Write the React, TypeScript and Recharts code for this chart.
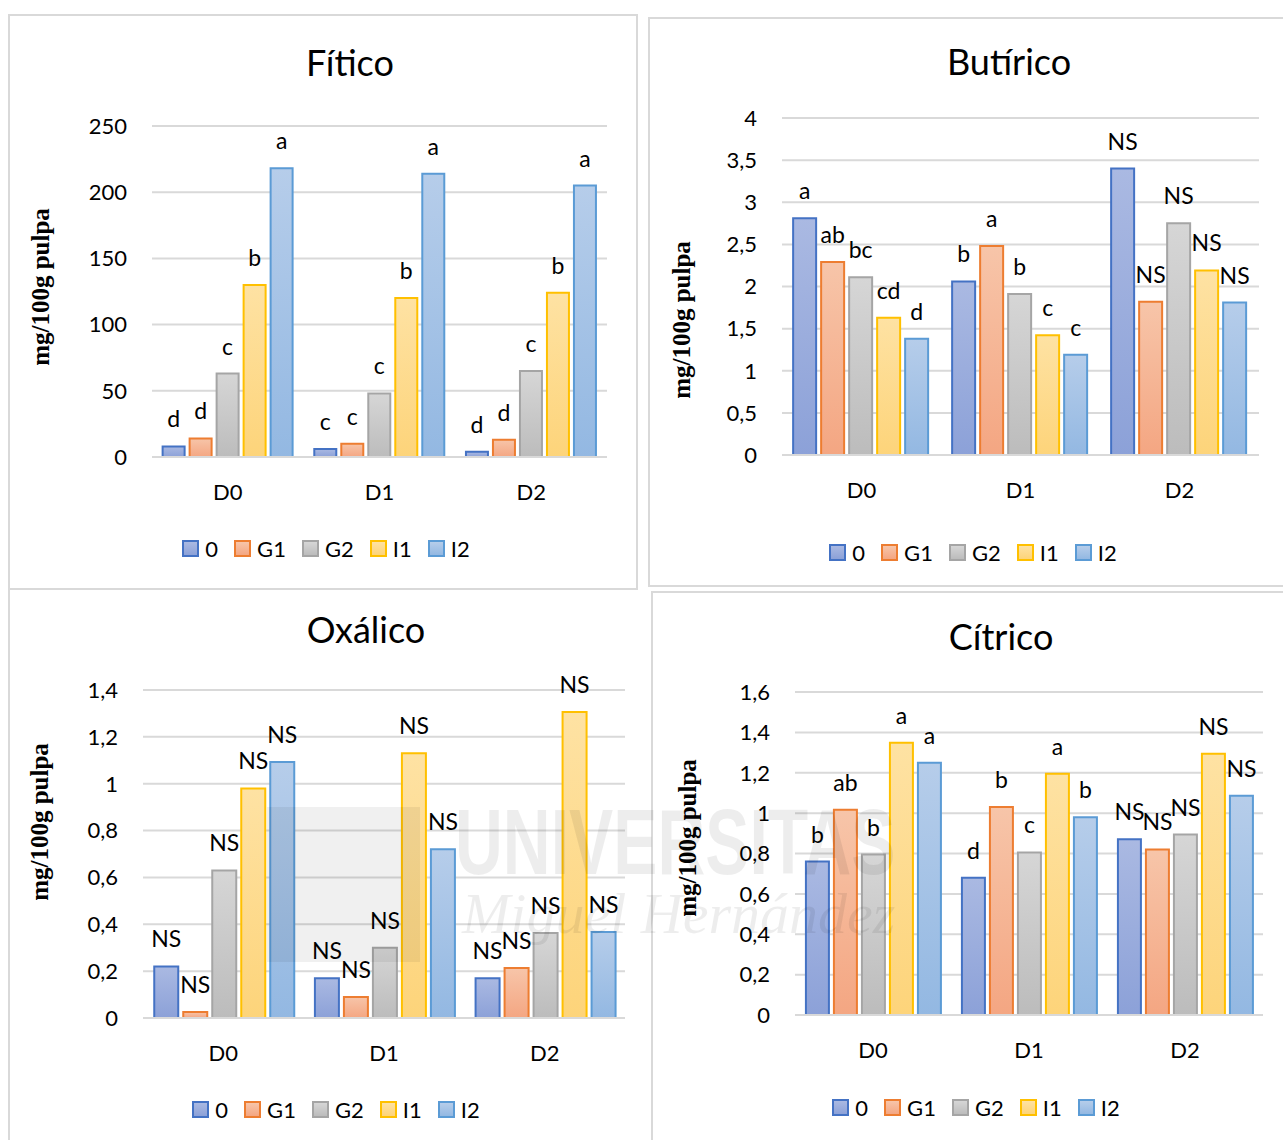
import { BarChart, Bar, XAxis, YAxis, CartesianGrid, LabelList } from "recharts";

const categories = ["D0", "D1", "D2"];
const seriesNames = ["0", "G1", "G2", "I1", "I2"];

// values indexed [series][category]
const fiticoValues = [
  [8, 6, 4],
  [14, 10, 13],
  [63, 48, 65],
  [130, 120, 124],
  [218, 214, 205],
];
const fiticoLetters = [
  ["d", "c", "d"],
  ["d", "c", "d"],
  ["c", "c", "c"],
  ["b", "b", "b"],
  ["a", "a", "a"],
];
const fiticoTicks = [0, 50, 100, 150, 200, 250];

const butiricoValues = [
  [2.81, 2.06, 3.4],
  [2.29, 2.48, 1.82],
  [2.11, 1.91, 2.75],
  [1.63, 1.42, 2.19],
  [1.38, 1.19, 1.81],
];
const butiricoLetters = [
  ["a", "b", "NS"],
  ["ab", "a", "NS"],
  ["bc", "b", "NS"],
  ["cd", "c", "NS"],
  ["d", "c", "NS"],
];
const butiricoTicks = [0, 0.5, 1, 1.5, 2, 2.5, 3, 3.5, 4];

const oxalicoValues = [
  [0.22, 0.17, 0.17],
  [0.026, 0.09, 0.213],
  [0.63, 0.3, 0.363],
  [0.98, 1.13, 1.306],
  [1.093, 0.72, 0.367],
];
const oxalicoLetters = [
  ["NS", "NS", "NS"],
  ["NS", "NS", "NS"],
  ["NS", "NS", "NS"],
  ["NS", "NS", "NS"],
  ["NS", "NS", "NS"],
];
const oxalicoTicks = [0, 0.2, 0.4, 0.6, 0.8, 1, 1.2, 1.4];

const citricoValues = [
  [0.76, 0.68, 0.87],
  [1.017, 1.03, 0.82],
  [0.795, 0.805, 0.894],
  [1.348, 1.195, 1.294],
  [1.25, 0.98, 1.086],
];
const citricoLetters = [
  ["b", "d", "NS"],
  ["ab", "b", "NS"],
  ["b", "c", "NS"],
  ["a", "a", "NS"],
  ["a", "b", "NS"],
];
const citricoTicks = [0, 0.2, 0.4, 0.6, 0.8, 1, 1.2, 1.4, 1.6];

const fills = [
  { top: "#aab9e2", bottom: "#8ca1d8", stroke: "#4472c4" },
  { top: "#f7c5a9", bottom: "#f4a682", stroke: "#ed7d31" },
  { top: "#d6d6d6", bottom: "#bcbcbc", stroke: "#a5a5a5" },
  { top: "#fee2a3", bottom: "#fdd47a", stroke: "#ffc000" },
  { top: "#b6cdea", bottom: "#93b8e2", stroke: "#5b9bd5" },
];

const FONT = "Lato, 'Open Sans', sans-serif";
const GRID = "#d9d9d9";

function buildRows(values: number[][], letters: string[][]) {
  return categories.map((c, i) => {
    const row: Record<string, string | number> = { cat: c };
    seriesNames.forEach((_, k) => {
      row[`s${k}`] = values[k][i];
      row[`l${k}`] = letters[k][i];
    });
    return row;
  });
}

const fmt = (v: number) => String(v).replace(".", ",");

interface PanelProps {
  id: string;
  title: string;
  values: number[][];
  letters: string[][];
  ticks: number[];
  box: { left: number; top: number; width: number; height: number };
  plot: { x0: number; x1: number; yTop: number; yZero: number };
  titleAt: [number, number];
  axisTitleAt: [number, number];
  legendAt: [number, number];
}

function Panel(p: PanelProps) {
  const { box, plot } = p;
  const yAxisW = 60;
  const xAxisH = 40;
  const margin = {
    left: plot.x0 - box.left - yAxisW,
    right: box.left + box.width - plot.x1,
    top: plot.yTop - box.top,
    bottom: box.top + box.height - plot.yZero - xAxisH,
  };
  const data = buildRows(p.values, p.letters);
  const max = p.ticks[p.ticks.length - 1];

  return (
    <>
      <div style={{ position: "absolute", left: box.left, top: box.top }}>
        <BarChart
          width={box.width}
          height={box.height}
          data={data}
          margin={margin}
          barCategoryGap="7%"
          barGap={5}
        >
          <defs>
            {fills.map((f, k) => (
              <linearGradient key={k} id={`${p.id}-g${k}`} x1="0" y1="0" x2="0" y2="1">
                <stop offset="0%" stopColor={f.top} />
                <stop offset="100%" stopColor={f.bottom} />
              </linearGradient>
            ))}
          </defs>
          <CartesianGrid vertical={false} stroke={GRID} strokeWidth={2} />
          <XAxis
            dataKey="cat"
            height={xAxisH}
            axisLine={{ stroke: GRID, strokeWidth: 2 }}
            tickLine={false}
            tickSize={0}
            tickMargin={27}
            tick={{ fontSize: 22, fill: "#000", fontFamily: FONT }}
          />
          <YAxis
            width={yAxisW}
            domain={[0, max]}
            ticks={p.ticks}
            interval={0}
            tickFormatter={fmt}
            axisLine={false}
            tickLine={false}
            tickSize={0}
            tickMargin={25}
            tick={{ fontSize: 22, fill: "#000", fontFamily: FONT }}
          />
          {seriesNames.map((s, k) => (
            <Bar
              key={s}
              dataKey={`s${k}`}
              name={s}
              fill={`url(#${p.id}-g${k})`}
              stroke={fills[k].stroke}
              strokeWidth={2}
              isAnimationActive={false}
            >
              <LabelList
                dataKey={`l${k}`}
                content={(lp: any) => (
                  <text
                    x={Number(lp.x) + Number(lp.width) / 2}
                    y={Number(lp.y) - 19}
                    textAnchor="middle"
                    fontSize={23}
                    fontFamily={FONT}
                    fill="#000"
                  >
                    {lp.value}
                  </text>
                )}
              />
            </Bar>
          ))}
        </BarChart>
      </div>
      <div
        style={{
          position: "absolute",
          left: p.titleAt[0] - 200,
          top: p.titleAt[1] - 23,
          width: 400,
          textAlign: "center",
          fontFamily: FONT,
          fontSize: 36,
          lineHeight: "44px",
          color: "#000",
        }}
      >
        {p.title}
      </div>
      <div
        style={{
          position: "absolute",
          left: p.axisTitleAt[0] - 100,
          top: p.axisTitleAt[1] - 15,
          width: 200,
          height: 30,
          lineHeight: "30px",
          textAlign: "center",
          transform: "rotate(-90deg)",
          fontFamily: "'Liberation Serif', 'Times New Roman', serif",
          fontWeight: "bold",
          fontSize: 25,
          color: "#000",
          whiteSpace: "nowrap",
        }}
      >
        mg/100g pulpa
      </div>
      <div
        style={{
          position: "absolute",
          left: p.legendAt[0] - 200,
          top: p.legendAt[1] - 14,
          width: 400,
          height: 28,
          display: "flex",
          justifyContent: "center",
          alignItems: "center",
          fontFamily: FONT,
          fontSize: 22,
          color: "#000",
        }}
      >
        {seriesNames.map((s, k) => (
          <div key={s} style={{ display: "flex", alignItems: "center", marginRight: k < 4 ? 16 : 0 }}>
            <div
              style={{
                width: 13,
                height: 13,
                border: `2px solid ${fills[k].stroke}`,
                background: `linear-gradient(${fills[k].top}, ${fills[k].bottom})`,
                marginRight: 6,
              }}
            />
            <span>{s}</span>
          </div>
        ))}
      </div>
    </>
  );
}

const border = `2px solid ${GRID}`;

export default function App() {
  return (
    <div
      style={{
        position: "absolute",
        left: 0,
        top: 0,
        width: 1283,
        height: 1140,
        background: "#fff",
        overflow: "hidden",
      }}
    >
      {/* panel frames */}
      <div style={{ position: "absolute", left: 8, top: 14, width: 626, height: 572, border }} />
      <div style={{ position: "absolute", left: 648, top: 17, width: 660, height: 566, border }} />
      <div style={{ position: "absolute", left: 8, top: 587, width: 660, height: 600, borderLeft: border }} />
      <div style={{ position: "absolute", left: 651, top: 591, width: 660, height: 600, borderLeft: border, borderTop: border }} />

      <Panel
        id="fit"
        title="Fítico"
        values={fiticoValues}
        letters={fiticoLetters}
        ticks={fiticoTicks}
        box={{ left: 8, top: 15, width: 628, height: 573 }}
        plot={{ x0: 152, x1: 607, yTop: 126, yZero: 457 }}
        titleAt={[350, 63]}
        axisTitleAt={[41, 287]}
        legendAt={[326, 548]}
      />
      <Panel
        id="but"
        title="Butírico"
        values={butiricoValues}
        letters={butiricoLetters}
        ticks={butiricoTicks}
        box={{ left: 649, top: 18, width: 634, height: 567 }}
        plot={{ x0: 782, x1: 1259, yTop: 118, yZero: 455 }}
        titleAt={[1009, 62]}
        axisTitleAt={[682, 320]}
        legendAt={[973, 552]}
      />
      <Panel
        id="oxa"
        title="Oxálico"
        values={oxalicoValues}
        letters={oxalicoLetters}
        ticks={oxalicoTicks}
        box={{ left: 8, top: 590, width: 628, height: 550 }}
        plot={{ x0: 143, x1: 625, yTop: 690, yZero: 1018 }}
        titleAt={[366, 630]}
        axisTitleAt={[40, 822]}
        legendAt={[336, 1109]}
      />
      <Panel
        id="cit"
        title="Cítrico"
        values={citricoValues}
        letters={citricoLetters}
        ticks={citricoTicks}
        box={{ left: 653, top: 594, width: 630, height: 546 }}
        plot={{ x0: 795, x1: 1263, yTop: 692, yZero: 1015 }}
        titleAt={[1001, 637]}
        axisTitleAt={[688, 838]}
        legendAt={[976, 1107]}
      />

      {/* faint watermark */}
      <div style={{ position: "absolute", left: 267, top: 807, width: 153, height: 155, background: "rgba(0,0,0,0.06)" }} />
      <div
        style={{
          position: "absolute",
          left: 455,
          top: 790,
          fontFamily: "'Liberation Sans', sans-serif",
          fontWeight: "bold",
          fontSize: 92,
          color: "rgba(0,0,0,0.07)",
          transform: "scaleX(0.72)",
          transformOrigin: "left top",
          whiteSpace: "nowrap",
        }}
      >
        UNIVERSITAS
      </div>
      <div
        style={{
          position: "absolute",
          left: 462,
          top: 880,
          fontFamily: "'Liberation Serif', serif",
          fontStyle: "italic",
          fontSize: 58,
          color: "rgba(0,0,0,0.07)",
          whiteSpace: "nowrap",
        }}
      >
        Miguel Hernández
      </div>
    </div>
  );
}
